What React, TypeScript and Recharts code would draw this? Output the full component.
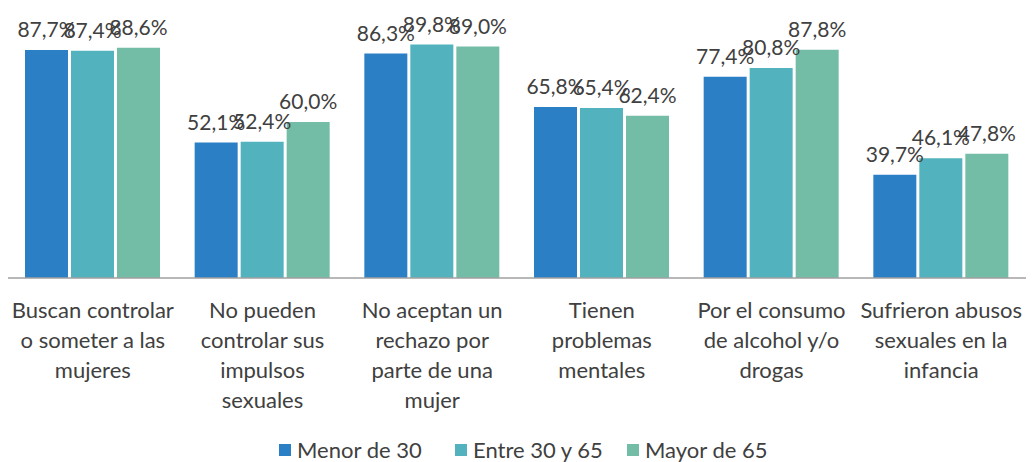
import { BarChart, Bar, XAxis, YAxis, Legend, LabelList } from 'recharts';

const categories = [
  "Buscan controlar\no someter a las\nmujeres",
  "No pueden\ncontrolar sus\nimpulsos\nsexuales",
  "No aceptan un\nrechazo por\nparte de una\nmujer",
  "Tienen\nproblemas\nmentales",
  "Por el consumo\nde alcohol y/o\ndrogas",
  "Sufrieron abusos\nsexuales en la\ninfancia",
];
const menor30 = [87.7, 52.1, 86.3, 65.8, 77.4, 39.7];
const entre30y65 = [87.4, 52.4, 89.8, 65.4, 80.8, 46.1];
const mayor65 = [88.6, 60.0, 89.0, 62.4, 87.8, 47.8];

const seriesNames = ["Menor de 30", "Entre 30 y 65", "Mayor de 65"];
const colors = ["#2a7fc5", "#52b3be", "#73bca6"];

const data = categories.map((c, i) => ({
  cat: c,
  a: menor30[i],
  b: entre30y65[i],
  c: mayor65[i],
}));

const font = "Lato, 'Open Sans', sans-serif";
const textColor = "#404040";

const fmt = (v: number) => v.toFixed(1).replace(".", ",") + "%";

function CategoryTick(props: any) {
  const { x, y, payload } = props;
  const lines = String(payload.value).split("\n");
  return (
    <text x={x} y={y} textAnchor="middle" fill={textColor} fontSize={22} fontFamily={font}>
      {lines.map((l, i) => (
        <tspan key={i} x={x} y={y + 32 + i * 30}>{l}</tspan>
      ))}
    </text>
  );
}

function LegendContent() {
  // left edge of each legend marker
  const starts = [279, 455, 627];
  return (
    <svg width={1018} height={30} style={{ display: 'block' }}>
      {seriesNames.map((n, i) => (
        <g key={n}>
          <rect x={starts[i] - 8} y={12} width={12} height={12} fill={colors[i]} />
          <text x={starts[i] - 8 + 18} y={26} fill={textColor} fontSize={22} fontFamily={font}>{n}</text>
        </g>
      ))}
    </svg>
  );
}

export default function App() {
  return (
    <BarChart
      width={1018}
      height={454}
      data={data}
      margin={{ top: 10, right: 0, left: 0, bottom: 0 }}
      barCategoryGap={17}
      barGap={3}
    >
      <XAxis
        dataKey="cat"
        interval={0}
        tickLine={false}
        axisLine={{ stroke: "#a0a0a0", strokeWidth: 1.5 }}
        height={154}
        tick={<CategoryTick />}
      />
      <YAxis hide domain={[0, 100]} />
      <Legend verticalAlign="bottom" height={30} content={<LegendContent />} />
      {["a", "b", "c"].map((k, i) => (
        <Bar key={k} dataKey={k} name={seriesNames[i]} fill={colors[i]} isAnimationActive={false}>
          <LabelList
            dataKey={k}
            position="top"
            offset={13}
            formatter={(v: any) => fmt(Number(v))}
            fill={textColor}
            fontSize={21}
            fontFamily={font}
          />
        </Bar>
      ))}
    </BarChart>
  );
}
